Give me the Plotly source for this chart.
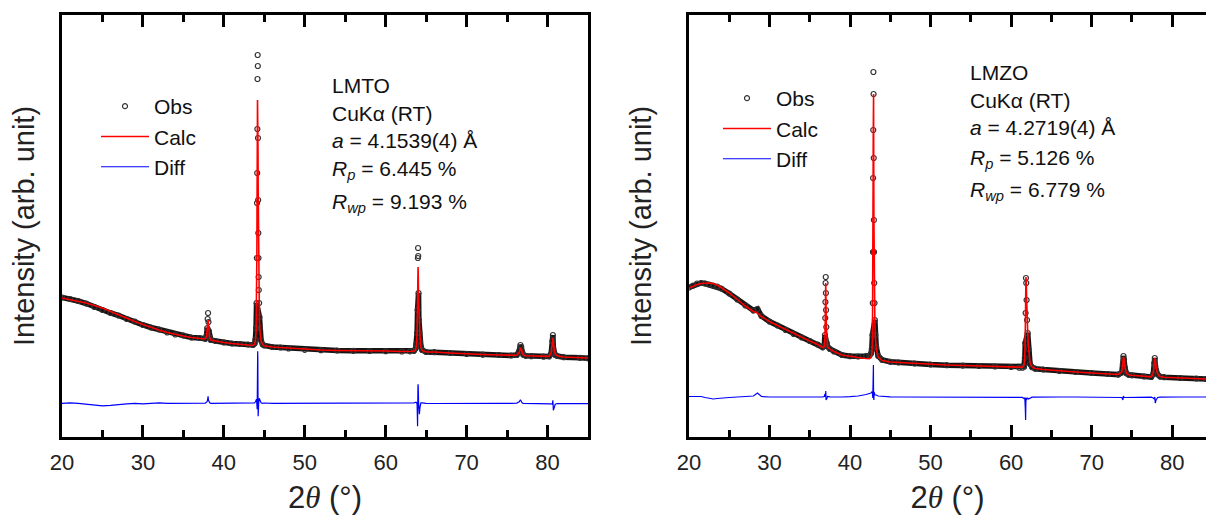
import plotly.graph_objects as go

# ---------------- LMTO (left panel) ----------------
tt_lmto = [20, 21, 22, 23, 24, 25, 26, 27, 28, 29, 30, 31, 32, 33, 34, 35, 36, 37,
           37.7, 37.85, 37.95, 38.0, 38.05, 38.1, 38.15, 38.25, 38.4,
           39, 40, 41, 42, 43,
           43.6, 43.8, 43.9, 43.98, 44.04, 44.08, 44.10, 44.12, 44.14, 44.16, 44.18, 44.20,
           44.22, 44.24, 44.26, 44.28, 44.30, 44.32, 44.36, 44.40, 44.46, 44.6, 44.8, 45.0,
           46, 47, 48, 50, 52, 54, 56, 58, 60, 62, 63.0,
           63.5, 63.7, 63.8, 63.88, 63.94, 63.98, 64.0, 64.02, 64.06, 64.1, 64.16, 64.24, 64.35, 64.5,
           65, 66, 68, 70, 72, 74, 75.5,
           76.2, 76.5, 76.65, 76.75, 76.85, 77.0, 77.3,
           78, 79.5,
           80.2, 80.45, 80.6, 80.66, 80.72, 80.8, 80.95, 81.2,
           82, 84, 85]
calc_lmto = [1390, 1375, 1360, 1340, 1315, 1290, 1255, 1220, 1185, 1155, 1125, 1095, 1070, 1045, 1025, 1010, 995, 985,
             980, 1000, 1070, 1140, 1170, 1120, 1050, 990, 970,
             960, 945, 935, 925, 920,
             915, 930, 960, 1050, 1300, 1800, 2250, 2700, 3050, 3370, 3300, 3250,
             2900, 2500, 2150, 1850, 1620, 1450, 1300, 1150, 1060, 960, 925, 912,
             900, 895, 885, 875, 870, 865, 865, 860, 860, 855, 855,
             858, 875, 920, 1050, 1500, 1650, 1700, 1640, 1420, 1250, 1150, 1000, 900, 865,
             850, 850, 840, 830, 825, 820, 815,
             818, 845, 885, 880, 845, 822, 812,
             810, 805,
             806, 840, 970, 990, 955, 880, 830, 812,
             800, 795, 790]
obs_lmto = [1395, 1380, 1360, 1335, 1300, 1270, 1240, 1215, 1180, 1155, 1120, 1095, 1075, 1045, 1025, 1015, 995, 990,
            982, 1010, 1090, 1180, 1240, 1150, 1060, 995, 970,
            960, 945, 935, 930, 925,
            920, 935, 975, 1090, 1340, 1790, 2340, 2640, 3080, 3580, 3820, 3710,
            2990, 2370, 2040, 1790, 1600, 1470, 1340, 1200, 1090, 965, 925, 915,
            900, 895, 885, 872, 868, 865, 862, 860, 858, 855, 856,
            862, 885, 930, 1040, 1270, 1790, 1890, 1810, 1440, 1170, 1040, 960, 905, 870,
            850, 848, 840, 830, 823, 820, 815,
            820, 860, 920, 900, 850, 822, 812,
            808, 803,
            806, 835, 960, 1020, 885, 840, 820, 810,
            798, 792, 787]
diff_lmto = [0, 5, 0, -10, -20, -25, -20, -10, -5, 0, -5, 0, 5, 0, 0, 5, 0, 5,
             2, 10, 20, 40, 70, 30, 10, 5, 0,
             0, 0, 0, 5, 5,
             5, 5, 15, 40, 40, -10, 90, -60, 30, 210, 520, 460,
             90, -130, -110, -60, -20, 20, 40, 50, 30, 5, 0, 3,
             0, 0, 0, -3, -2, 0, -3, 0, -2, 0, 1,
             4, 10, 10, -10, -230, 140, 190, 170, 20, -80, -110, -40, 5, 5,
             0, -2, 0, 0, -2, 0, 0,
             2, 15, 35, 20, 5, 0, 0,
             -2, -2,
             0, -5, -10, 30, -70, -40, -10, -2,
             -2, -3, -3]
diff_offset_lmto = 337
# 2θ windows of the strong reflections, where the observed points stand apart
peak_windows_lmto = [(37.97, 38.13), (44.06, 44.36), (63.96, 64.04)]

# ---------------- LMZO (right panel) ----------------
tt_lmzo = [20.0, 20.5, 21.0, 21.5, 22.0, 22.5, 23.0, 23.5, 24.0, 25.0, 26.0, 27.0, 28.0, 28.5, 29.0,
           30.0, 31.0, 32.0, 33.0, 34.0, 35.0, 36.0, 36.6,
           36.8, 36.88, 36.92, 36.94, 36.96, 36.98, 37.0, 37.02, 37.05, 37.1, 37.2, 37.5,
           38.0, 39.0, 40.0, 41.0, 42.0, 42.4,
           42.6, 42.7, 42.78, 42.82, 42.84, 42.86, 42.88, 42.9, 42.92, 42.94, 42.96, 42.98,
           43.0, 43.04, 43.08, 43.14, 43.25, 43.5,
           44.0, 45.0, 46, 48, 50, 52, 54, 56, 58, 60, 61.0, 61.4,
           61.6, 61.7, 61.76, 61.8, 61.84, 61.88, 61.92, 61.98, 62.06, 62.16, 62.35, 62.6,
           63, 64, 66, 68, 70, 72, 73.3,
           73.75, 73.88, 73.95, 74.02, 74.12, 74.3, 74.6,
           75, 76.5,
           77.4, 77.65, 77.78, 77.84, 77.9, 78.0, 78.2, 78.5,
           79, 81, 83, 84.2]
calc_lmzo = [1490, 1510, 1525, 1535, 1540, 1540, 1535, 1520, 1495, 1440, 1375, 1310, 1255, 1240, 1205,
             1155, 1115, 1075, 1035, 995, 960, 925, 895,
             905, 990, 1180, 1350, 1520, 1540, 1450, 1300, 1120, 960, 900, 878,
             855, 820, 805, 795, 785, 783,
             795, 830, 980, 1350, 1800, 2500, 3000, 3330, 3430, 2800, 2200, 1800,
             1520, 1300, 1150, 1000, 880, 800,
             765, 750, 745, 735, 725, 720, 715, 710, 705, 700, 695, 697,
             720, 800, 1050, 1470, 1600, 1560, 1400, 1180, 1050, 900, 740, 700,
             685, 675, 660, 650, 640, 630, 625,
             650, 760, 800, 780, 700, 640, 622,
             617, 606,
             602, 640, 760, 790, 770, 700, 630, 605,
             598, 590, 585, 580]
obs_lmzo = [1495, 1515, 1535, 1540, 1535, 1525, 1515, 1505, 1485, 1435, 1375, 1315, 1265, 1280, 1210,
            1155, 1115, 1070, 1030, 995, 960, 925, 897,
            910, 1020, 1190, 1350, 1540, 1600, 1440, 1270, 1100, 940, 905, 880,
            855, 820, 808, 805, 810, 815,
            835, 880, 1020, 1340, 1850, 2590, 3070, 3650, 3430, 2790, 2170, 1850,
            1540, 1340, 1170, 1020, 900, 810,
            770, 752, 745, 735, 725, 718, 714, 710, 705, 700, 693, 693,
            705, 790, 940, 1240, 1590, 1540, 1370, 1170, 1040, 880, 730, 698,
            683, 675, 660, 650, 640, 630, 624,
            645, 730, 810, 775, 695, 638, 622,
            617, 605,
            600, 630, 740, 790, 710, 670, 625, 604,
            598, 590, 585, 580]
diff_lmzo = [5, 5, 10, 5, -5, -15, -20, -15, -10, -5, 0, 5, 10, 40, 5,
             0, 0, -5, -5, 0, 0, 0, 2,
             5, 30, 10, 0, 20, 60, -10, -30, -20, -20, 5, 2,
             0, 0, 3, 10, 25, 32,
             40, 50, 40, -10, 50, 90, 70, 320, 0, -10, -30, 50,
             20, 40, 20, 20, 20, 10,
             5, 2, 0, 0, 0, -2, -1, 0, 0, 0, -2, -4,
             -15, -10, -110, -230, -10, -20, -30, -10, -10, -20, -10, -2,
             -2, 0, 0, 0, 0, 0, -1,
             -5, -30, 10, -5, -5, -2, 0,
             0, -1,
             -2, -10, -20, 0, -60, -30, -5, -1,
             0, 0, 0, 0]
diff_offset_lmzo = 400
peak_windows_lmzo = [(36.9, 37.08), (42.8, 43.06), (61.78, 62.02)]

x_tickvals = [20, 30, 40, 50, 60, 70, 80]

# ---------------- layout geometry (pixels) ----------------
W, H = 1206, 518
ML, MR, MT, MB = 62, 0, 15, 81
PW, PH = W - ML - MR, H - MT - MB
L_X0, L_X1 = 62, 588
R_X0, R_X1 = 689, 1206


def px2x(px):
    return (px - ML) / PW


def py2y(py):
    return 1 - (py - MT) / PH


def dense_band(tt, obs, windows):
    """Observed points that overlap into a solid band (all but the isolated peak points)."""
    return [None if any(a <= t <= b for a, b in windows) else o for t, o in zip(tt, obs)]


FONT = "Liberation Sans, Arial, sans-serif"
fig = go.Figure()

panels = [
    ("x", "y", "legend", tt_lmto, obs_lmto, calc_lmto, diff_lmto, diff_offset_lmto, peak_windows_lmto),
    ("x2", "y2", "legend2", tt_lmzo, obs_lmzo, calc_lmzo, diff_lmzo, diff_offset_lmzo, peak_windows_lmzo),
]
for xa, ya, lg, tt, obs, calc, diff, off, win in panels:
    fig.add_trace(go.Scatter(x=tt, y=dense_band(tt, obs, win), mode="lines", xaxis=xa, yaxis=ya,
                             connectgaps=True,
                             line=dict(color="#151515", width=5.5), showlegend=False,
                             hoverinfo="skip"))
    fig.add_trace(go.Scatter(x=tt, y=obs, mode="markers", name="Obs", xaxis=xa, yaxis=ya,
                             legend=lg,
                             marker=dict(symbol="circle-open", size=5, color="#333333",
                                         line=dict(width=1.2))))
    fig.add_trace(go.Scatter(x=tt, y=calc, mode="lines", name="Calc", xaxis=xa, yaxis=ya,
                             legend=lg, line=dict(color="#ff0000", width=1.6)))
    fig.add_trace(go.Scatter(x=tt, y=[d + off for d in diff], mode="lines", name="Diff",
                             xaxis=xa, yaxis=ya, legend=lg,
                             line=dict(color="#0000ff", width=1.2)))

axis_common = dict(
    showline=True, linewidth=3, linecolor="black",
    ticks="inside", ticklen=12, tickwidth=3, tickcolor="black",
    tickvals=x_tickvals, tickfont=dict(family=FONT, size=22, color="#222"),
    minor=dict(dtick=5, tick0=25, ticks="inside", ticklen=7, tickwidth=3, tickcolor="black"),
    mirror="allticks", showgrid=False, zeroline=False, ticklabelstandoff=4,
    title=dict(text="2<span style='font-family:Liberation Serif'><i>θ</i></span> (°)",
               font=dict(family=FONT, size=31, color="#222"), standoff=12),
)
yaxis_common = dict(
    showline=True, linewidth=3, linecolor="black", ticks="", showticklabels=False,
    showgrid=False, zeroline=False, range=[0, 4220],
)

fig.update_layout(
    width=W, height=H, margin=dict(l=ML, r=MR, t=MT, b=MB),
    paper_bgcolor="white", plot_bgcolor="white",
    font=dict(family=FONT, color="#111"),
    xaxis=dict(domain=[px2x(L_X0), px2x(L_X1)], range=[20, 85], anchor="y", **axis_common),
    xaxis2=dict(domain=[px2x(R_X0), 1.0], range=[20, 84.2], anchor="y2", **axis_common),
    yaxis=dict(domain=[0, 1], anchor="x", mirror=True,
               title=dict(text="Intensity (arb. unit)", font=dict(family=FONT, size=29, color="#222"),
                          standoff=16),
               **yaxis_common),
    yaxis2=dict(domain=[0, 1], anchor="x2", mirror=False,
                title=dict(text="Intensity (arb. unit)", font=dict(family=FONT, size=29, color="#222"),
                           standoff=26),
                **yaxis_common),
    legend=dict(x=px2x(96), y=py2y(86), xanchor="left", yanchor="top",
                bgcolor="rgba(0,0,0,0)", font=dict(family=FONT, size=21, color="#111"),
                itemwidth=48, tracegroupgap=0),
    legend2=dict(x=px2x(718), y=py2y(78), xanchor="left", yanchor="top",
                 bgcolor="rgba(0,0,0,0)", font=dict(family=FONT, size=21, color="#111"),
                 itemwidth=48, tracegroupgap=0),
)

texts_lmto = ["LMTO", "CuKα (RT)", "<i>a</i> = 4.1539(4) Å",
              "<i>R</i><sub><i>p</i></sub> = 6.445 %", "<i>R</i><sub><i>wp</i></sub> = 9.193 %"]
texts_lmzo = ["LMZO", "CuKα (RT)", "<i>a</i> = 4.2719(4) Å",
              "<i>R</i><sub><i>p</i></sub> = 5.126 %", "<i>R</i><sub><i>wp</i></sub> = 6.779 %"]
rows_lmto = [85, 113, 140, 170, 203]
rows_lmzo = [72, 100, 128, 159, 191]
for texts, rows, x0 in [(texts_lmto, rows_lmto, 330), (texts_lmzo, rows_lmzo, 968)]:
    for t, r in zip(texts, rows):
        fig.add_annotation(text=t, x=px2x(x0), y=py2y(r), xref="paper", yref="paper",
                           xanchor="left", yanchor="middle", showarrow=False,
                           font=dict(family=FONT, size=21, color="#111"))

fig.write_html("out.html")
